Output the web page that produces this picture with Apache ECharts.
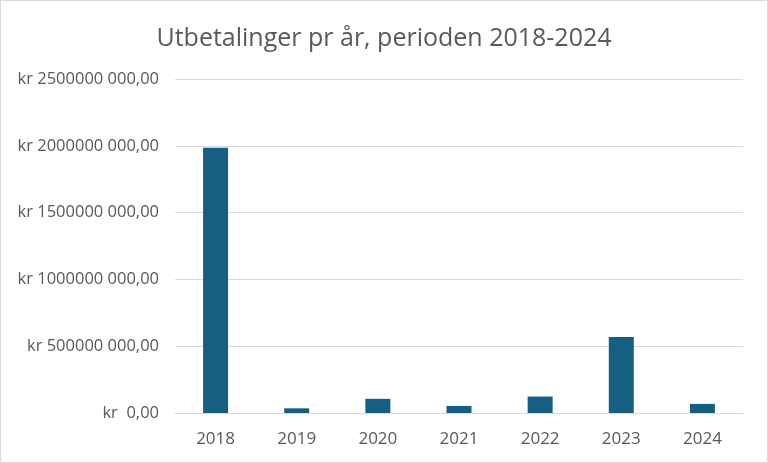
<!DOCTYPE html>
<html>
<head>
<meta charset="utf-8">
<script src="https://cdn.jsdelivr.net/npm/echarts@6/dist/echarts.min.js"></script>
<style>
html,body{margin:0;padding:0;background:#fff;}
#frame{position:absolute;left:0;top:0;width:766px;height:461px;border:1px solid #d9d9d9;}
#chart{width:766px;height:461px;}
</style>
</head>
<body>
<div id="frame"><div id="chart"></div></div>
<script>
const titleText = 'Utbetalinger pr år, perioden 2018-2024';
const years = ['2018','2019','2020','2021','2022','2023','2024'];
const payments = [1986000000, 35000000, 106000000, 53000000, 123000000, 568000000, 68000000];
const yTicks = [0, 500000000, 1000000000, 1500000000, 2000000000, 2500000000];

function fmt(v){
  if (v === 0) return 'kr  0,00';
  let s = String(Math.round(v));
  if (s.length > 3) s = s.slice(0,-3) + ' ' + s.slice(-3);
  return 'kr ' + s + ',00';
}

const chart = echarts.init(document.getElementById('chart'));
chart.setOption({
  animation:false,
  title:{text:titleText,left:'center',top:20,textStyle:{fontFamily:'Open Sans',fontSize:25,fontWeight:'normal',color:'#595959'}},
  grid:{left:174,right:24,top:78,bottom:49},
  xAxis:{type:'category',data:years,
    axisLine:{lineStyle:{color:'#d9d9d9',width:1}},
    axisTick:{show:false},
    axisLabel:{color:'#595959',fontFamily:'Open Sans',fontSize:17,margin:18}},
  yAxis:{type:'value',min:yTicks[0],max:yTicks[yTicks.length-1],interval:500000000,
    axisLine:{show:false},axisTick:{show:false},
    splitLine:{lineStyle:{color:'#d9d9d9',width:1}},
    axisLabel:{color:'#595959',fontFamily:'Open Sans',fontSize:16.5,margin:16,formatter:fmt}},
  series:[{type:'bar',data:payments,barWidth:25,itemStyle:{color:'#156082'}}]
});
</script>
</body>
</html>
